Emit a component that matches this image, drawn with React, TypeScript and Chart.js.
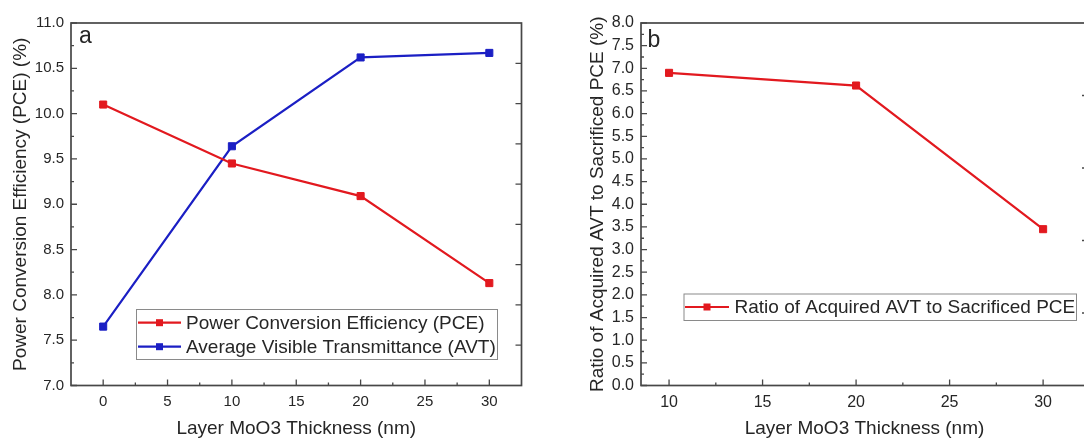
import React, { useEffect, useRef } from "react";
import { Chart, registerables } from "chart.js";

Chart.register(...registerables);

const FONT = "'Liberation Sans', Arial, sans-serif";
const RED = "#e2191f";
const BLUE = "#1b1fc4";
const TEXT = "#262626";
const FRAME = "#474747";

// ---- Panel a data ----
const thicknessA = [0, 10, 20, 30];
const pceValues = [10.1, 9.45, 9.09, 8.13];
const avtValues = [7.65, 9.64, 10.62, 10.67];
const xTicksA = [0, 5, 10, 15, 20, 25, 30];
const yTicksA = [7.0, 7.5, 8.0, 8.5, 9.0, 9.5, 10.0, 10.5, 11.0];
const y2TicksA = [1, 2, 3, 4, 5, 6, 7, 8];

// ---- Panel b data ----
const thicknessB = [10, 20, 30];
const ratioValues = [6.9, 6.62, 3.45];
const xTicksB = [10, 15, 20, 25, 30];
const yTicksB = [0.0, 0.5, 1.0, 1.5, 2.0, 2.5, 3.0, 3.5, 4.0, 4.5, 5.0, 5.5, 6.0, 6.5, 7.0, 7.5, 8.0];
const y2TicksB = [1, 2, 3, 4];

const xTitle = "Layer MoO3 Thickness (nm)";
const yTitleA = "Power Conversion Efficiency (PCE) (%)";
const yTitleB = "Ratio of Acquired AVT to Sacrificed PCE (%)";
const labelPCE = "Power Conversion Efficiency (PCE)";
const labelAVT = "Average Visible Transmittance (AVT)";
const labelRatio = "Ratio of Acquired AVT to Sacrificed PCE";

function mids(arr: number[]) {
  const out: number[] = [];
  for (let i = 0; i < arr.length - 1; i++) out.push((arr[i] + arr[i + 1]) / 2);
  return out;
}

const framePlugin = {
  id: "frameTicks",
  afterDraw(chart: any, _args: any, o: any) {
    const ctx = chart.ctx as CanvasRenderingContext2D;
    const { left, right, top, bottom } = chart.chartArea;
    const xs = chart.scales.x;
    const ys = chart.scales.y;
    const y2s = chart.scales.y2;
    ctx.save();
    ctx.strokeStyle = FRAME;
    ctx.lineWidth = 1.7;
    ctx.strokeRect(left, top, right - left, bottom - top);
    ctx.lineWidth = 1.3;
    ctx.beginPath();
    o.xMajor.forEach((v: number) => {
      const p = xs.getPixelForValue(v);
      ctx.moveTo(p, bottom);
      ctx.lineTo(p, bottom - 6);
    });
    mids(o.xMajor).forEach((v: number) => {
      const p = xs.getPixelForValue(v);
      ctx.moveTo(p, bottom);
      ctx.lineTo(p, bottom - 3);
    });
    o.yMajor.forEach((v: number) => {
      const p = ys.getPixelForValue(v);
      ctx.moveTo(left, p);
      ctx.lineTo(left + 6, p);
    });
    mids(o.yMajor).forEach((v: number) => {
      const p = ys.getPixelForValue(v);
      ctx.moveTo(left, p);
      ctx.lineTo(left + 3, p);
    });
    o.y2Major.forEach((v: number) => {
      const p = y2s.getPixelForValue(v);
      ctx.moveTo(right, p);
      ctx.lineTo(right - 6, p);
    });
    ctx.stroke();

    // panel letter
    ctx.fillStyle = TEXT;
    ctx.font = `23px ${FONT}`;
    ctx.textAlign = "left";
    ctx.textBaseline = "alphabetic";
    ctx.fillText(o.letter, o.letterX, o.letterY);

    // legend
    const lg = o.legend;
    ctx.fillStyle = "#ffffff";
    ctx.fillRect(lg.box[0], lg.box[1], lg.box[2] - lg.box[0], lg.box[3] - lg.box[1]);
    ctx.strokeStyle = "#8a8a8a";
    ctx.lineWidth = 1;
    ctx.strokeRect(lg.box[0] + 0.5, lg.box[1] + 0.5, lg.box[2] - lg.box[0], lg.box[3] - lg.box[1]);
    chart.data.datasets.forEach((ds: any, i: number) => {
      const cy = lg.rows[i];
      ctx.strokeStyle = ds.borderColor;
      ctx.lineWidth = 2.2;
      ctx.beginPath();
      ctx.moveTo(lg.lineX[0], cy);
      ctx.lineTo(lg.lineX[1], cy);
      ctx.stroke();
      const mx = (lg.lineX[0] + lg.lineX[1]) / 2;
      ctx.fillStyle = ds.borderColor;
      ctx.fillRect(mx - 3.5, cy - 3.5, 7, 7);
      ctx.fillStyle = TEXT;
      ctx.font = `19px ${FONT}`;
      ctx.textBaseline = "middle";
      ctx.fillText(ds.label, lg.textX, cy + 1);
    });
    ctx.restore();
  },
};

function makeDataset(label: string, xs: number[], ys: number[], color: string) {
  return {
    label,
    data: xs.map((x, i) => ({ x, y: ys[i] })),
    borderColor: color,
    backgroundColor: color,
    borderWidth: 2.2,
    pointStyle: "rect",
    pointRadius: 5,
    pointBorderWidth: 1,
    pointBorderColor: color,
    pointBackgroundColor: color,
    tension: 0,
    yAxisID: "y",
  };
}

function buildOptions(p: {
  xMin: number; xMax: number; xTicks: number[];
  yMin: number; yMax: number; yTicks: number[];
  y2Max: number; y2Ticks: number[];
  yWidth: number; y2Width: number; yTitle: string; yTitlePad: number;
  tickSize: number; letter: string; letterX: number; letterY: number; legend: any;
}) {
  const tickFont = { family: FONT, size: p.tickSize };
  return {
    animation: false,
    responsive: false,
    devicePixelRatio: 1,
    layout: { padding: { top: 23, left: 0, right: 0, bottom: 0 } },
    plugins: {
      legend: { display: false },
      tooltip: { enabled: false },
      frameTicks: {
        xMajor: p.xTicks, yMajor: p.yTicks, y2Major: p.y2Ticks,
        letter: p.letter, letterX: p.letterX, letterY: p.letterY, legend: p.legend,
      },
    },
    scales: {
      x: {
        type: "linear",
        min: p.xMin,
        max: p.xMax,
        afterBuildTicks: (s: any) => { s.ticks = p.xTicks.map((v) => ({ value: v })); },
        afterFit: (s: any) => { s.height = 54.5; },
        grid: { display: false, drawTicks: false },
        border: { display: false },
        ticks: { color: TEXT, font: tickFont, padding: 7, maxRotation: 0, autoSkip: false, callback: (v: any) => String(v) },
        title: { display: true, text: xTitle, color: TEXT, font: { family: FONT, size: 19 }, padding: { top: 0, bottom: 0 } },
      },
      y: {
        type: "linear",
        position: "left",
        min: p.yMin,
        max: p.yMax,
        afterBuildTicks: (s: any) => { s.ticks = p.yTicks.map((v) => ({ value: v })); },
        afterFit: (s: any) => { s.width = p.yWidth; },
        grid: { display: false, drawTicks: false },
        border: { display: false },
        ticks: { color: TEXT, font: tickFont, padding: 7, autoSkip: false, callback: (v: any) => Number(v).toFixed(1) },
        title: { display: true, text: p.yTitle, color: TEXT, font: { family: FONT, size: 19 }, padding: { top: p.yTitlePad, bottom: 0 } },
      },
      y2: {
        type: "linear",
        position: "right",
        min: 0,
        max: p.y2Max,
        afterFit: (s: any) => { s.width = p.y2Width; },
        grid: { display: false, drawTicks: false },
        border: { display: false },
        ticks: { display: false },
      },
    },
  };
}

export default function App() {
  const refA = useRef<HTMLCanvasElement>(null);
  const refB = useRef<HTMLCanvasElement>(null);

  useEffect(() => {
    const chartA = new Chart(refA.current as HTMLCanvasElement, {
      type: "line",
      data: {
        datasets: [
          makeDataset(labelPCE, thicknessA, pceValues, RED),
          makeDataset(labelAVT, thicknessA, avtValues, BLUE),
        ] as any,
      },
      options: buildOptions({
        xMin: -2.5, xMax: 32.5, xTicks: xTicksA,
        yMin: 7, yMax: 11, yTicks: yTicksA,
        y2Max: 9, y2Ticks: y2TicksA,
        yWidth: 71, y2Width: 18.5, yTitle: yTitleA, yTitlePad: 9,
        tickSize: 15, letter: "a", letterX: 79, letterY: 43,
        legend: { box: [136, 309, 497, 359], rows: [322.7, 346.7], lineX: [138, 181], textX: 186 },
      }) as any,
      plugins: [framePlugin as any],
    });
    const chartB = new Chart(refB.current as HTMLCanvasElement, {
      type: "line",
      data: {
        datasets: [makeDataset(labelRatio, thicknessB, ratioValues, RED)] as any,
      },
      options: buildOptions({
        xMin: 8.5, xMax: 32.4, xTicks: xTicksB,
        yMin: 0, yMax: 8, yTicks: yTicksB,
        y2Max: 5, y2Ticks: y2TicksB,
        yWidth: 101, y2Width: 22, yTitle: yTitleB, yTitlePad: 46.5,
        tickSize: 16, letter: "b", letterX: 107.5, letterY: 47,
        legend: { box: [143.5, 293.5, 536, 320], rows: [307], lineX: [145, 189], textX: 194.5 },
      }) as any,
      plugins: [framePlugin as any],
    });
    return () => {
      chartA.destroy();
      chartB.destroy();
    };
  }, []);

  return (
    <div style={{ position: "absolute", left: 0, top: 0, width: 1084, height: 440, overflow: "hidden", background: "#ffffff" }}>
      <canvas ref={refA} width={540} height={440} style={{ position: "absolute", left: 0, top: 0, width: 540, height: 440 }} />
      <canvas ref={refB} width={570} height={440} style={{ position: "absolute", left: 540, top: 0, width: 570, height: 440 }} />
    </div>
  );
}
